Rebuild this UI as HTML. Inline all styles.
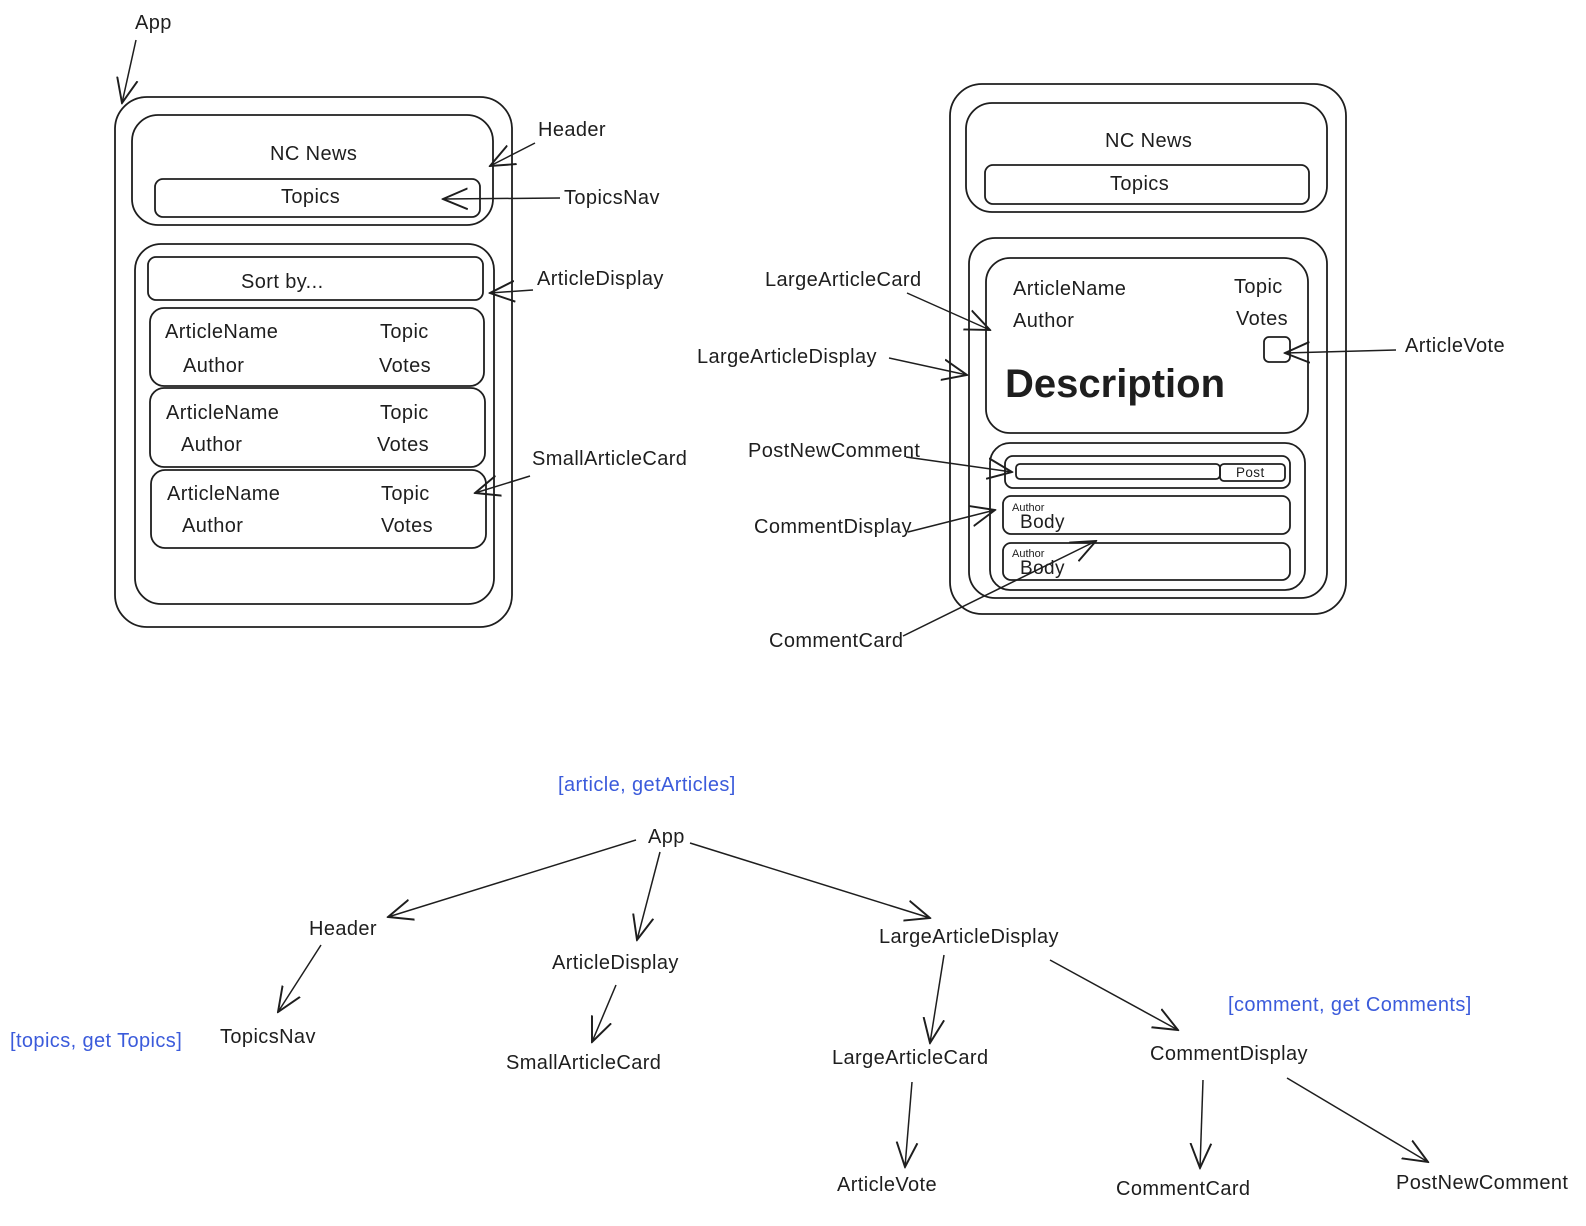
<!DOCTYPE html>
<html><head><meta charset="utf-8"><style>
html,body{margin:0;padding:0;background:#fff;}
svg{display:block;}
text{font-family:"Liberation Sans",sans-serif;font-size:20px;letter-spacing:0.4px;fill:#1e1e1e;}
.b{fill:#3b5bdb;}
rect{fill:none;stroke:#1e1e1e;stroke-width:1.8;}
line,path.l{stroke:#1e1e1e;stroke-width:1.5;fill:none;}
</style></head><body>
<svg width="1586" height="1226" viewBox="0 0 1586 1226" xmlns="http://www.w3.org/2000/svg">
<defs>
<marker id="a" viewBox="0 0 20 20" refX="19" refY="10" markerWidth="26" markerHeight="26" markerUnits="userSpaceOnUse" orient="auto">
<path d="M0,2 L19,10 L0,18" fill="none" stroke="#1e1e1e" stroke-width="1.5"/>
</marker>
</defs>
<rect x="115" y="97" width="397" height="530" rx="32"/>
<rect x="132" y="115" width="361" height="110" rx="26"/>
<rect x="155" y="179" width="325" height="38" rx="8"/>
<text x="270" y="160">NC News</text>
<text x="281" y="203">Topics</text>
<rect x="135" y="244" width="359" height="360" rx="26"/>
<rect x="148" y="257" width="335" height="43" rx="8"/>
<text x="241" y="288">Sort by...</text>
<rect x="150" y="308" width="334" height="78" rx="14"/>
<rect x="150" y="388" width="335" height="79" rx="14"/>
<rect x="151" y="470" width="335" height="78" rx="14"/>
<text x="165" y="338">ArticleName</text><text x="380" y="338">Topic</text>
<text x="183" y="372">Author</text><text x="379" y="372">Votes</text>
<text x="166" y="419">ArticleName</text><text x="380" y="419">Topic</text>
<text x="181" y="451">Author</text><text x="377" y="451">Votes</text>
<text x="167" y="500">ArticleName</text><text x="381" y="500">Topic</text>
<text x="182" y="532">Author</text><text x="381" y="532">Votes</text>
<text x="135" y="29">App</text>
<line x1="136" y1="40" x2="122" y2="103" marker-end="url(#a)"/>
<text x="538" y="136">Header</text>
<line x1="535" y1="143" x2="490" y2="166" marker-end="url(#a)"/>
<text x="564" y="204">TopicsNav</text>
<line x1="560" y1="198" x2="443" y2="199" marker-end="url(#a)"/>
<text x="537" y="285">ArticleDisplay</text>
<line x1="533" y1="290" x2="490" y2="293" marker-end="url(#a)"/>
<text x="532" y="465">SmallArticleCard</text>
<line x1="530" y1="476" x2="475" y2="493" marker-end="url(#a)"/>
<rect x="950" y="84" width="396" height="530" rx="32"/>
<rect x="966" y="103" width="361" height="109" rx="26"/>
<rect x="985" y="165" width="324" height="39" rx="8"/>
<text x="1105" y="147">NC News</text>
<text x="1110" y="190">Topics</text>
<rect x="969" y="238" width="358" height="360" rx="26"/>
<rect x="986" y="258" width="322" height="175" rx="24"/>
<text x="1013" y="295">ArticleName</text>
<text x="1013" y="327">Author</text>
<text x="1234" y="293">Topic</text>
<text x="1236" y="325">Votes</text>
<text x="1005" y="397" style="font-size:40px;font-weight:bold;letter-spacing:0">Description</text>
<rect x="1264" y="337" width="26" height="25" rx="5"/>
<rect x="990" y="443" width="315" height="147" rx="20"/>
<rect x="1005" y="456" width="285" height="32" rx="8"/>
<rect x="1016" y="464" width="204" height="15" rx="4"/>
<rect x="1220" y="464" width="65" height="17" rx="4"/>
<text x="1236" y="477" style="font-size:13.5px">Post</text>
<rect x="1003" y="496" width="287" height="38" rx="8"/>
<rect x="1003" y="543" width="287" height="37" rx="8"/>
<text x="1012" y="511" style="font-size:11px;letter-spacing:0">Author</text>
<text x="1020" y="528" style="font-size:19px">Body</text>
<text x="1012" y="557" style="font-size:11px;letter-spacing:0">Author</text>
<text x="1020" y="574" style="font-size:19px">Body</text>
<text x="765" y="286">LargeArticleCard</text>
<line x1="907" y1="293" x2="990" y2="330" marker-end="url(#a)"/>
<text x="697" y="363">LargeArticleDisplay</text>
<line x1="889" y1="358" x2="967" y2="375" marker-end="url(#a)"/>
<text x="1405" y="352">ArticleVote</text>
<line x1="1396" y1="350" x2="1285" y2="353" marker-end="url(#a)"/>
<text x="748" y="457">PostNewComment</text>
<line x1="906" y1="457" x2="1012" y2="472" marker-end="url(#a)"/>
<text x="754" y="533">CommentDisplay</text>
<line x1="908" y1="532" x2="995" y2="510" marker-end="url(#a)"/>
<text x="769" y="647">CommentCard</text>
<line x1="903" y1="636" x2="1096" y2="541" marker-end="url(#a)"/>
<text class="b" x="558" y="791">[article, getArticles]</text>
<text x="648" y="843">App</text>
<text x="309" y="935">Header</text>
<text x="552" y="969">ArticleDisplay</text>
<text x="879" y="943">LargeArticleDisplay</text>
<text class="b" x="10" y="1047">[topics, get Topics]</text>
<text x="220" y="1043">TopicsNav</text>
<text x="506" y="1069">SmallArticleCard</text>
<text x="832" y="1064">LargeArticleCard</text>
<text x="1150" y="1060">CommentDisplay</text>
<text class="b" x="1228" y="1011">[comment, get Comments]</text>
<text x="837" y="1191">ArticleVote</text>
<text x="1116" y="1195">CommentCard</text>
<text x="1396" y="1189">PostNewComment</text>
<line x1="636" y1="840" x2="388" y2="917" marker-end="url(#a)"/>
<line x1="660" y1="852" x2="637" y2="940" marker-end="url(#a)"/>
<line x1="690" y1="843" x2="930" y2="918" marker-end="url(#a)"/>
<line x1="321" y1="945" x2="278" y2="1012" marker-end="url(#a)"/>
<line x1="616" y1="985" x2="592" y2="1042" marker-end="url(#a)"/>
<line x1="944" y1="955" x2="930" y2="1043" marker-end="url(#a)"/>
<line x1="1050" y1="960" x2="1178" y2="1030" marker-end="url(#a)"/>
<line x1="912" y1="1082" x2="905" y2="1167" marker-end="url(#a)"/>
<line x1="1203" y1="1080" x2="1200" y2="1168" marker-end="url(#a)"/>
<line x1="1287" y1="1078" x2="1428" y2="1162" marker-end="url(#a)"/>
</svg>
</body></html>
